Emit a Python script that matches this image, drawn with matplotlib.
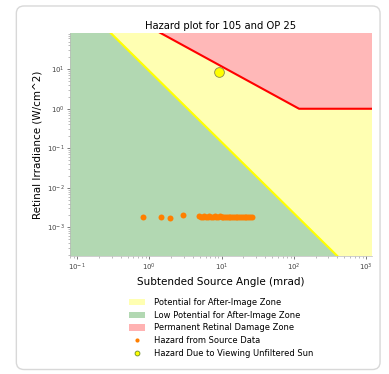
import matplotlib
matplotlib.use("Agg")
import matplotlib.pyplot as plt
from matplotlib.patches import FancyBboxPatch, Patch
from matplotlib.lines import Line2D

# threshold curves (angle in mrad, irradiance in W/cm^2)
after_image_angle = [0.01, 10000]
after_image_irr = [3.6e4, 5.7e-7]
burn_angle = [0.01, 118, 10000]
burn_irr = [11800, 1.0, 1.0]

# hazard points from the source data
source_angle = [0.81, 1.47, 1.96, 2.95,
                4.9, 5.2, 5.5, 5.8, 6.1, 6.4, 6.8, 7.2, 7.6, 8.0, 8.5, 9.0,
                9.5, 10.0, 10.6, 11.2, 11.8, 12.5, 13.2, 14.0, 14.8, 15.6,
                16.5, 17.5, 18.5, 19.6, 20.8, 22.0, 23.3, 24.6, 26.0]
source_irr = [1.8e-3, 1.8e-3, 1.75e-3, 2.0e-3,
              1.95e-3, 1.85e-3, 1.8e-3, 1.95e-3, 1.85e-3, 1.8e-3, 1.9e-3,
              1.85e-3, 1.8e-3, 1.9e-3, 1.85e-3, 1.8e-3, 1.9e-3, 1.85e-3,
              1.8e-3, 1.85e-3, 1.8e-3, 1.85e-3, 1.8e-3, 1.85e-3, 1.8e-3,
              1.85e-3, 1.8e-3, 1.8e-3, 1.8e-3, 1.8e-3, 1.8e-3, 1.8e-3,
              1.8e-3, 1.8e-3, 1.8e-3]

# unfiltered sun
sun_angle = [9.3]
sun_irr = [8.5]

lo, hi = 1e-9, 1e9

fig = plt.figure(figsize=(3.89, 3.74), dpi=100)

# card border around the figure
card = FancyBboxPatch((0.042, 0.012), 0.935, 0.972, boxstyle="round,pad=0,rounding_size=0.02",
                      transform=fig.transFigure, facecolor="white", edgecolor="#d8d8d8",
                      linewidth=1.0, zorder=-10)
fig.patches.append(card)

ax = fig.add_axes([0.18, 0.316, 0.776, 0.596])
ax.set_xscale("log")
ax.set_yscale("log")

# zones
green_x = after_image_angle + [after_image_angle[-1], after_image_angle[0]]
green_y = after_image_irr + [lo, lo]
ax.fill(green_x, green_y, color="green", alpha=0.3, lw=0)

yellow_x = after_image_angle + burn_angle[::-1]
yellow_y = after_image_irr + burn_irr[::-1]
ax.fill(yellow_x, yellow_y, color="yellow", alpha=0.3, lw=0)

red_x = burn_angle + [burn_angle[-1], burn_angle[0]]
red_y = burn_irr + [hi, hi]
ax.fill(red_x, red_y, color="red", alpha=0.28, lw=0)

ax.plot(after_image_angle, after_image_irr, color="yellow", lw=1.5)
ax.plot(burn_angle, burn_irr, color="red", lw=1.5)

ax.plot(source_angle, source_irr, "o", color="#ff7f00", ms=4.3, mew=0, ls="none")
ax.plot(sun_angle, sun_irr, "o", color="yellow", mec="#8a8a4a", mew=0.6, ms=7)

ax.set_xlim(0.08, 1200)
ax.set_ylim(1.9e-4, 83)

ax.set_title("Hazard plot for 105 and OP 25", fontsize=7.2, pad=3)
ax.set_xlabel("Subtended Source Angle (mrad)", fontsize=7.5, labelpad=3)
ax.set_ylabel("Retinal Irradiance (W/cm^2)", fontsize=7.5, labelpad=3)
ax.tick_params(labelsize=5, length=2, width=0.5, colors="#444444", pad=2)
ax.tick_params(which="minor", length=1.2, width=0.4, colors="#888888")
for side in ["top", "right"]:
    ax.spines[side].set_visible(False)
for side in ["left", "bottom"]:
    ax.spines[side].set_color("#bbbbbb")
    ax.spines[side].set_linewidth(0.5)

handles = [
    Patch(color="yellow", alpha=0.3, lw=0),
    Patch(color="green", alpha=0.3, lw=0),
    Patch(color="red", alpha=0.3, lw=0),
    Line2D([], [], marker="o", color="#ff7f00", ls="none", ms=3, mew=0),
    Line2D([], [], marker="o", color="yellow", mec="#6a8a2a", mew=0.6, ls="none", ms=3.5),
]
labels = [
    "Potential for After-Image Zone",
    "Low Potential for After-Image Zone",
    "Permanent Retinal Damage Zone",
    "Hazard from Source Data",
    "Hazard Due to Viewing Unfiltered Sun",
]
ax.legend(handles, labels, loc="upper center", bbox_to_anchor=(0.5, -0.155),
          frameon=False, fontsize=6, handlelength=2.0, handleheight=0.8,
          labelspacing=0.45, handletextpad=1.0)

fig.savefig("out.png", dpi=100)
